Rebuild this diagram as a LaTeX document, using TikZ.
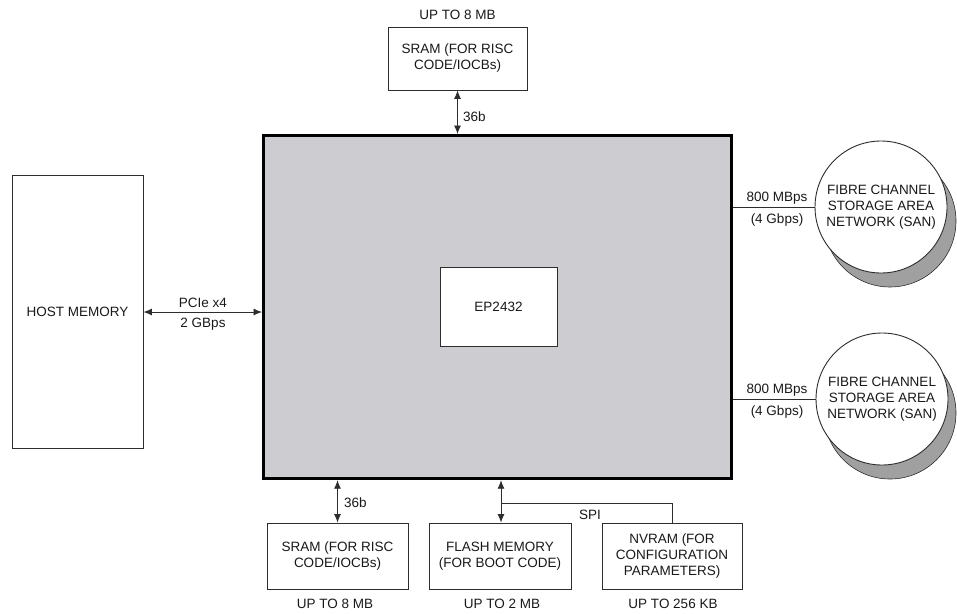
\documentclass[tikz,border=0pt]{standalone}
\usepackage{fontspec}
\setmainfont{Liberation Sans}
\usetikzlibrary{arrows.meta}
\definecolor{chipgray}{RGB}{205,204,208}
\definecolor{shadowgray}{RGB}{160,160,160}
\definecolor{linegray}{RGB}{45,45,45}
\tikzset{
  lbl/.style={font=\fontsize{13.5}{16}\selectfont, inner sep=0pt, align=center, text=black!90},
  membox/.style={draw=linegray, line width=0.9pt, fill=white, inner sep=0pt, lbl},
  link/.style={draw=linegray, line width=0.9pt},
  dlink/.style={link, {Latex[length=8.5pt,width=7pt]}-{Latex[length=8.5pt,width=7pt]}},
  sancirc/.style={circle, draw=linegray, line width=0.9pt, fill=white, minimum size=132pt, inner sep=0pt, lbl},
  sanshadow/.style={circle, draw=linegray, line width=0.6pt, fill=shadowgray, minimum size=132pt, inner sep=0pt},
}
\begin{document}
\begin{tikzpicture}[x=1pt,y=-1pt]
\useasboundingbox (0,0) rectangle (957,613);
\clip (0,0) rectangle (957,613);
% main chip
\node[draw=black, line width=3.2pt, fill=chipgray, minimum width=468pt, minimum height=343pt, inner sep=0pt, anchor=north west] (chip) at (262,134) {};
\node[membox, minimum width=117pt, minimum height=79pt] (ep) at (498.5,306.5) {EP2432};
% host memory
\node[membox, minimum width=131pt, minimum height=273pt] (host) at (77.5,311.5) {HOST MEMORY};
% top SRAM
\node[membox, minimum width=139pt, minimum height=63pt] (sramtop) at (457.5,58.5) {SRAM (FOR RISC\\CODE/IOCBs)};
\node[lbl] (sramtopcap) at (457.5,15) {UP TO 8 MB};
% bottom boxes
\node[membox, minimum width=141pt, minimum height=66pt] (srambot) at (337.5,556) {SRAM (FOR RISC\\CODE/IOCBs)};
\node[membox, minimum width=142pt, minimum height=66pt] (flash) at (500,556) {FLASH MEMORY\\(FOR BOOT CODE)};
\node[membox, minimum width=140pt, minimum height=66pt] (nvram) at (672,556) {NVRAM (FOR\\CONFIGURATION\\PARAMETERS)};
\node[lbl] (srambotcap) at (335,604) {UP TO 8 MB};
\node[lbl] (flashcap) at (502,604) {UP TO 2 MB};
\node[lbl] (nvramcap) at (673,604) {UP TO 256 KB};
% SAN circles
\node[sanshadow] (sh1) at (890,221) {};
\node[sancirc] (san1) at (881,207) {FIBRE CHANNEL\\STORAGE AREA\\NETWORK (SAN)};
\node[sanshadow] (sh2) at (890,413) {};
\node[sancirc] (san2) at (882,399) {FIBRE CHANNEL\\STORAGE AREA\\NETWORK (SAN)};
% connectors
\draw[dlink] (host.east |- 0,312) coordinate (hp) -- (chip.west |- hp);
\node[lbl] (pcie) at (203,303) {PCIe x4};
\node[lbl] (pcieb) at (203,324) {2 GBps};
\draw[dlink] (sramtop.south) -- (sramtop.south |- chip.north);
\node[lbl, anchor=west] (b36t) at (463,117) {36b};
\draw[dlink] (chip.south -| srambot.north) -- (srambot.north);
\node[lbl, anchor=west] (b36b) at (344,503) {36b};
\coordinate (fl) at (501,0);
\draw[dlink] (chip.south -| fl) -- (flash.north -| fl);
\coordinate (spij) at (501,503);
\draw[link] (spij) -- (spij -| nvram.north) -- (nvram.north);
\node[lbl] (spi) at (590,515) {SPI};
\draw[link] (chip.east |- san1.west) -- (san1.west);
\node[lbl] (r1a) at (777,198) {800 MBps};
\node[lbl] (r1b) at (777,220) {(4 Gbps)};
\draw[link] (chip.east |- san2.west) -- (san2.west);
\node[lbl] (r2a) at (777,390) {800 MBps};
\node[lbl] (r2b) at (777,412) {(4 Gbps)};
\end{tikzpicture}
\end{document}
